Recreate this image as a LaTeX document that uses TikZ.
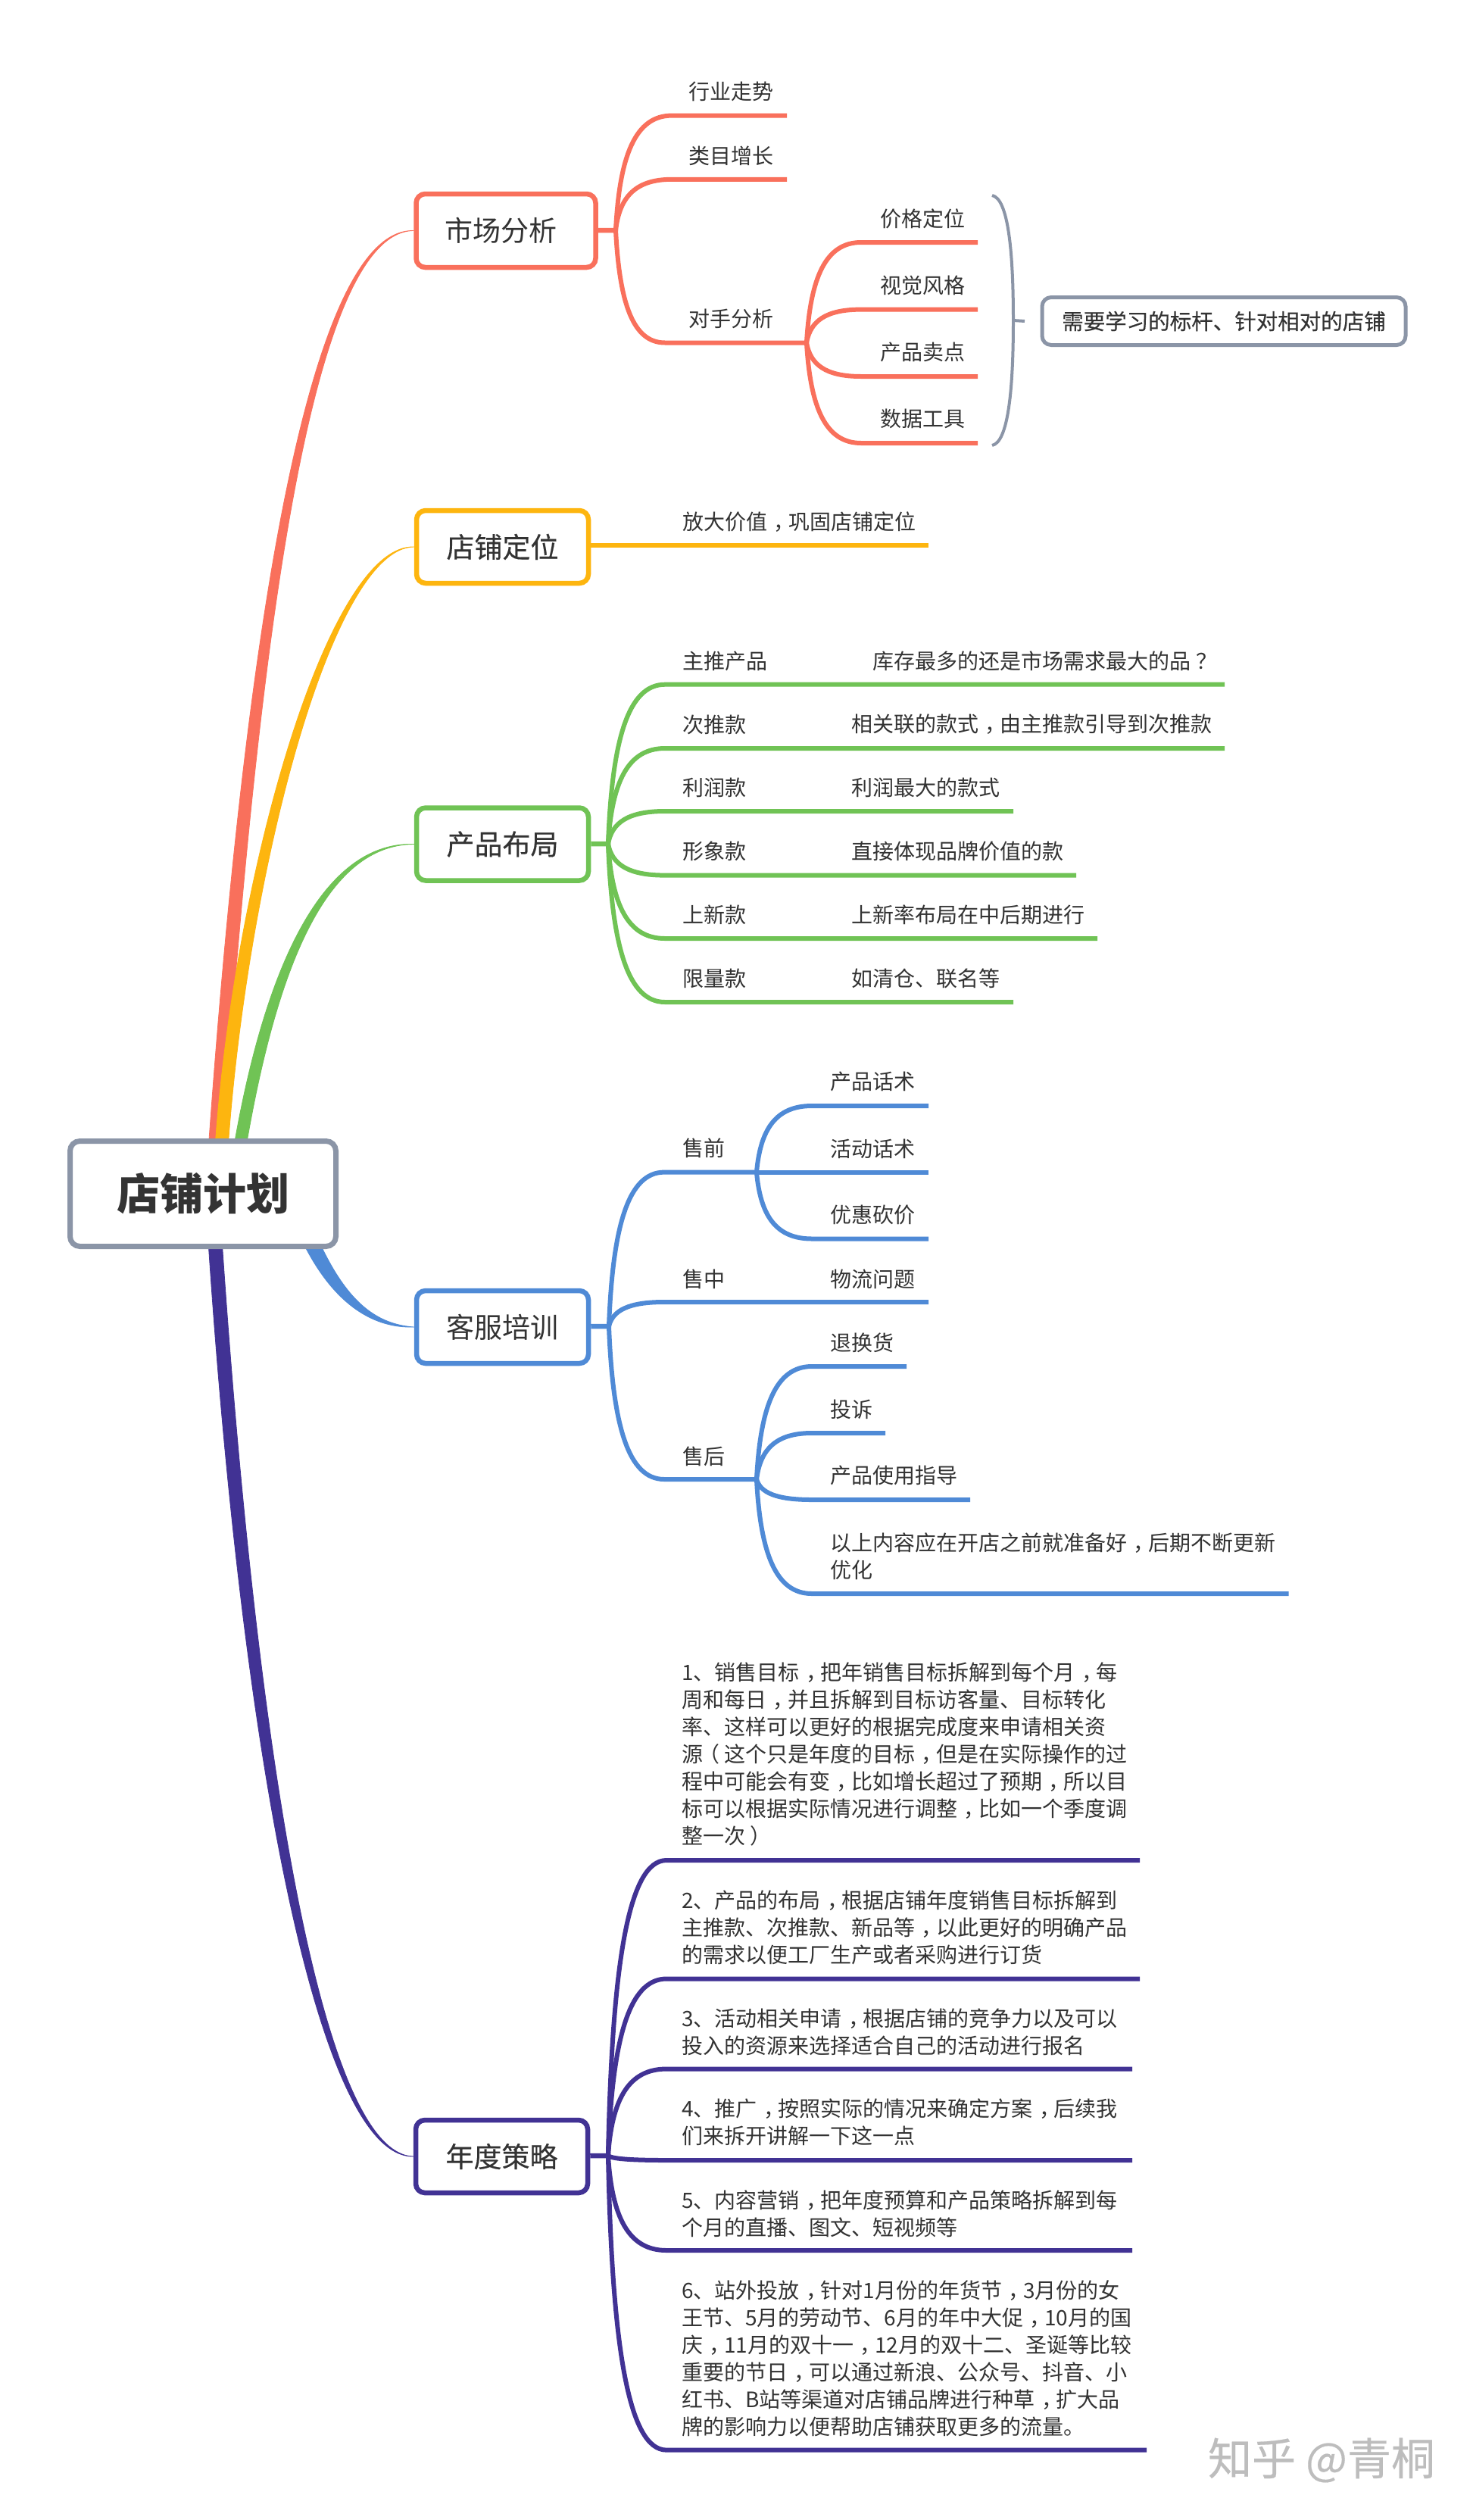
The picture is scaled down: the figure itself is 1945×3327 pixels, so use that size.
\documentclass[tikz,border=0pt]{standalone}
\usepackage{fontspec}
\setmainfont{Noto Sans CJK SC}
\usetikzlibrary{backgrounds}
\definecolor{coral}{HTML}{F9705C}
\definecolor{amber}{HTML}{FDB50F}
\definecolor{leafgreen}{HTML}{70C355}
\definecolor{skyblue}{HTML}{4F8AD6}
\definecolor{royal}{HTML}{413294}
\definecolor{slate}{HTML}{8B95A7}
\definecolor{ink}{HTML}{333333}
\definecolor{mark}{HTML}{BDBDBD}
% full-width punctuation sits in the middle of its em box, as in the picture
\catcode`，=\active \def，{\makebox[1em][l]{\kern.3em\char"FF0C}}
\catcode`？=\active \def？{\makebox[1em][l]{\kern.25em\char"FF1F}}
\catcode`（=\active \def（{\makebox[1em][l]{\kern-.22em\char"FF08}}
\catcode`）=\active \def）{\makebox[1em][l]{\kern.22em\char"FF09}}
\newcommand{\semibold}{\addfontfeature{FakeBold=0.35}}
\tikzset{
  rootbox/.style={draw=slate,fill=white,line width=7,rounded corners=13,minimum width=351,minimum height=139,inner sep=0,font=\fontsize{57}{60}\selectfont\bfseries,text=ink},
  topicbox/.style={fill=white,line width=6.5,rounded corners=12,minimum height=96,inner sep=0,minimum width=227,font=\fontsize{37}{40}\selectfont,text=ink},
  notebox/.style={draw=slate,fill=white,line width=5,rounded corners=12,minimum width=480,minimum height=63,inner sep=0,font=\fontsize{28.5}{36}\selectfont\semibold,text=ink},
  leaf/.style={anchor=west,inner sep=0,align=left,xshift=1pt,yshift=-1pt,font=\fontsize{28}{36}\selectfont,text=ink},
  twigline/.style={line width=6,line join=round},
  stub/.style={line width=6.5},
  wmark/.style={inner sep=0,font=\fontsize{58}{60}\selectfont\semibold,text=mark}
}
\def\vs{-1}
% colour, start x, start y, c1x, c1y, c2x, c2y, child, half width
\newcommand{\rlink}[9]{%
  \fill[fill=#1,draw=#1,line width=.8] ({#2-#9},#3) .. controls ({#4-1.1*#9},#5) and ({#6-.3*#9},{#7+\vs*.3*#9}) .. (#8.west)
    .. controls ({#6+.3*#9},{#7-\vs*.3*#9}) and ({#4+1.1*#9},#5) .. ({#2+#9},#3) -- cycle;}
% colour, name, from, bx, by, sx, y, ex
\newcommand{\twig}[8]{%
  \coordinate (#2) at (#8,#7);
  \draw[twigline,#1] (#3) .. controls ({#4+5},{#5+.65*(#7-#5)}) and ({#4+.35*(#6-#4)},#7) .. (#6,#7) -- (#2);}
\begin{document}
\begin{tikzpicture}[x=1pt,y=-1pt]
\path[use as bounding box] (0,0) rectangle (1945,3327);
% nodes
\node[rootbox] (root) at (268,1576) {\raisebox{3pt}{店铺计划}};
\node[topicbox,draw=coral,minimum width=237,minimum height=97] (market) at (668,304.5) {市场分析\hspace{13pt}\null};
\node[topicbox,draw=amber] (position) at (663.5,722) {\semibold 店铺定位};
\node[topicbox,draw=leafgreen] (layout) at (663.5,1114.5) {\semibold 产品布局};
\node[topicbox,draw=skyblue] (service) at (663.5,1752) {客服培训};
\node[topicbox,draw=royal] (annual) at (662.5,2847) {\semibold 年度策略};
\node[notebox] (note) at (1616,424) {需要学习的标杆、针对相对的店铺};
% market
\node[leaf] (m1) at (908,120) {行业走势};
\node[leaf] (m2) at (908,205) {类目增长};
\node[leaf] (m3) at (908,420) {对手分析};
\node[leaf] (m31) at (1161,287.5) {价格定位};
\node[leaf] (m32) at (1161,376) {视觉风格};
\node[leaf] (m33) at (1161,463.6) {产品卖点};
\node[leaf] (m34) at (1161,552) {数据工具};
% position
\node[leaf] (p1) at (900,688) {放大价值，巩固店铺定位};
% layout
\node[leaf] (l1) at (900,872) {主推产品};
\node[leaf] (l2) at (900,955.5) {次推款};
\node[leaf] (l3) at (900,1039) {利润款};
\node[leaf] (l4) at (900,1123) {形象款};
\node[leaf] (l5) at (900,1207) {上新款};
\node[leaf] (l6) at (900,1291) {限量款};
\node[leaf] (l1b) at (1151,872) {库存最多的还是市场需求最大的品？};
\node[leaf] (l2b) at (1123,955.5) {相关联的款式，由主推款引导到次推款};
\node[leaf] (l3b) at (1123,1039) {利润最大的款式};
\node[leaf] (l4b) at (1123,1123) {直接体现品牌价值的款};
\node[leaf] (l5b) at (1123,1207) {上新率布局在中后期进行};
\node[leaf] (l6b) at (1123,1291) {如清仓、联名等};
% service
\node[leaf] (s1) at (900,1515) {售前};
\node[leaf] (s2) at (900,1688) {售中};
\node[leaf] (s3) at (900,1921.5) {售后};
\node[leaf] (s11) at (1095,1427) {产品话术};
\node[leaf] (s12) at (1095,1516) {活动话术};
\node[leaf] (s13) at (1095,1603) {优惠砍价};
\node[leaf] (s21) at (1095,1688) {物流问题};
\node[leaf] (s31) at (1095,1771.5) {退换货};
\node[leaf] (s32) at (1095,1860) {投诉};
\node[leaf] (s33) at (1095,1947) {产品使用指导};
\node[leaf] (s34) at (1095,2054) {以上内容应在开店之前就准备好，后期不断更新\\优化};
% annual
\node[leaf] (a1) at (899,2315) {1、销售目标，把年销售目标拆解到每个月，每\\周和每日，并且拆解到目标访客量、目标转化\\率、这样可以更好的根据完成度来申请相关资\\源（这个只是年度的目标，但是在实际操作的过\\程中可能会有变，比如增长超过了预期，所以目\\标可以根据实际情况进行调整，比如一个季度调\\整一次）};
\node[leaf] (a2) at (899,2543.7) {2、产品的布局，根据店铺年度销售目标拆解到\\主推款、次推款、新品等，以此更好的明确产品\\的需求以便工厂生产或者采购进行订货};
\node[leaf] (a3) at (899,2681.4) {3、活动相关申请，根据店铺的竞争力以及可以\\投入的资源来选择适合自己的活动进行报名};
\node[leaf] (a4) at (899,2801) {4、推广，按照实际的情况来确定方案，后续我\\们来拆开讲解一下这一点};
\node[leaf] (a5) at (899,2921.6) {5、内容营销，把年度预算和产品策略拆解到每\\个月的直播、图文、短视频等};
\node[leaf] (a6) at (899,3113) {6、站外投放，针对1月份的年货节，3月份的女\\王节、5月的劳动节、6月的年中大促，10月的国\\庆，11月的双十一，12月的双十二、圣诞等比较\\重要的节日，可以通过新浪、公众号、抖音、小\\红书、B站等渠道对店铺品牌进行种草，扩大品\\牌的影响力以便帮助店铺获取更多的流量。};
\node[wmark] (wm) at (1745,3248) {知乎 @青桐};
% connectors
\begin{scope}[on background layer]
\fill[white] (0,0) rectangle (1945,3327);
% root links
\def\vs{-1}
\rlink{coral}{280}{1576}{320}{1000}{390}{303}{market}{9}
\rlink{amber}{289}{1576}{305}{1200}{430}{720}{position}{8.5}
\rlink{leafgreen}{307}{1576}{347}{1300}{420}{1113}{layout}{8}
\def\vs{1}
\rlink{royal}{280}{1576}{325}{2300}{420}{2846}{annual}{9}
\rlink{skyblue}{390}{1590}{430}{1700}{480}{1751}{service}{11}
% market
\coordinate (mh) at (813,304);
\draw[stub,coral] (market) -- (mh);
\twig{coral}{m1e}{mh}{813}{304}{887}{152.6}{1039}
\twig{coral}{m2e}{mh}{813}{304}{887}{236.8}{1039}
\twig{coral}{m3e}{mh}{813}{304}{878}{452.5}{1065}
\coordinate (mt) at (1065,452.5);
\twig{coral}{m31e}{mt}{1065}{452.5}{1137}{320}{1291}
\twig{coral}{m32e}{mt}{1065}{452.5}{1137}{408.6}{1291}
\twig{coral}{m33e}{mt}{1065}{452.5}{1137}{497}{1291}
\twig{coral}{m34e}{mt}{1065}{452.5}{1137}{585}{1291}
% brace
\coordinate (bt) at (1310,258);
\coordinate (bb) at (1310,588);
\coordinate (bm) at (1338,423);
\draw[slate,line width=4] (bt) .. controls (1331,262) and (1338,330) .. (bm) .. controls (1338,516) and (1331,584) .. (bb);
\draw[slate,line width=4] (bm) -- (note.west -| 1353,0);
% position
\coordinate (p1e) at (1226,720);
\draw[twigline,amber] (position.east |- p1e) -- (p1e);
% layout
\coordinate (lh) at (803,1114);
\draw[stub,leafgreen] (layout) -- (lh);
\twig{leafgreen}{l1e}{lh}{803}{1114}{878}{903.7}{1617}
\twig{leafgreen}{l2e}{lh}{803}{1114}{878}{988}{1617}
\twig{leafgreen}{l3e}{lh}{803}{1114}{878}{1071}{1338}
\twig{leafgreen}{l4e}{lh}{803}{1114}{878}{1155.6}{1421}
\twig{leafgreen}{l5e}{lh}{803}{1114}{878}{1239}{1449}
\twig{leafgreen}{l6e}{lh}{803}{1114}{878}{1323}{1338}
% service
\coordinate (sh) at (804,1751);
\draw[stub,skyblue] (service) -- (sh);
\twig{skyblue}{s1e}{sh}{804}{1751}{877}{1547.6}{999}
\twig{skyblue}{s2e}{sh}{804}{1751}{877}{1719}{1226}
\twig{skyblue}{s3e}{sh}{804}{1751}{877}{1953}{999}
\coordinate (st) at (999,1547.6);
\twig{skyblue}{s11e}{st}{999}{1547.6}{1072}{1460}{1226}
\twig{skyblue}{s12e}{st}{999}{1547.6}{1072}{1547.6}{1226}
\twig{skyblue}{s13e}{st}{999}{1547.6}{1072}{1635.5}{1226}
\coordinate (su) at (999,1953);
\twig{skyblue}{s31e}{su}{999}{1953}{1072}{1804}{1197}
\twig{skyblue}{s32e}{su}{999}{1953}{1072}{1892}{1169}
\twig{skyblue}{s33e}{su}{999}{1953}{1072}{1980}{1281}
\twig{skyblue}{s34e}{su}{999}{1953}{1072}{2104}{1701.5}
% annual
\coordinate (ah) at (803,2846);
\draw[stub,royal] (annual) -- (ah);
\twig{royal}{a1e}{ah}{803}{2846}{880}{2456}{1505}
\twig{royal}{a2e}{ah}{803}{2846}{880}{2612.5}{1505}
\twig{royal}{a3e}{ah}{803}{2846}{880}{2731.5}{1495}
\twig{royal}{a4e}{ah}{803}{2846}{880}{2852}{1495}
\twig{royal}{a5e}{ah}{803}{2846}{880}{2971}{1495}
\twig{royal}{a6e}{ah}{803}{2846}{880}{3234.6}{1514}
\end{scope}
\end{tikzpicture}
\end{document}
